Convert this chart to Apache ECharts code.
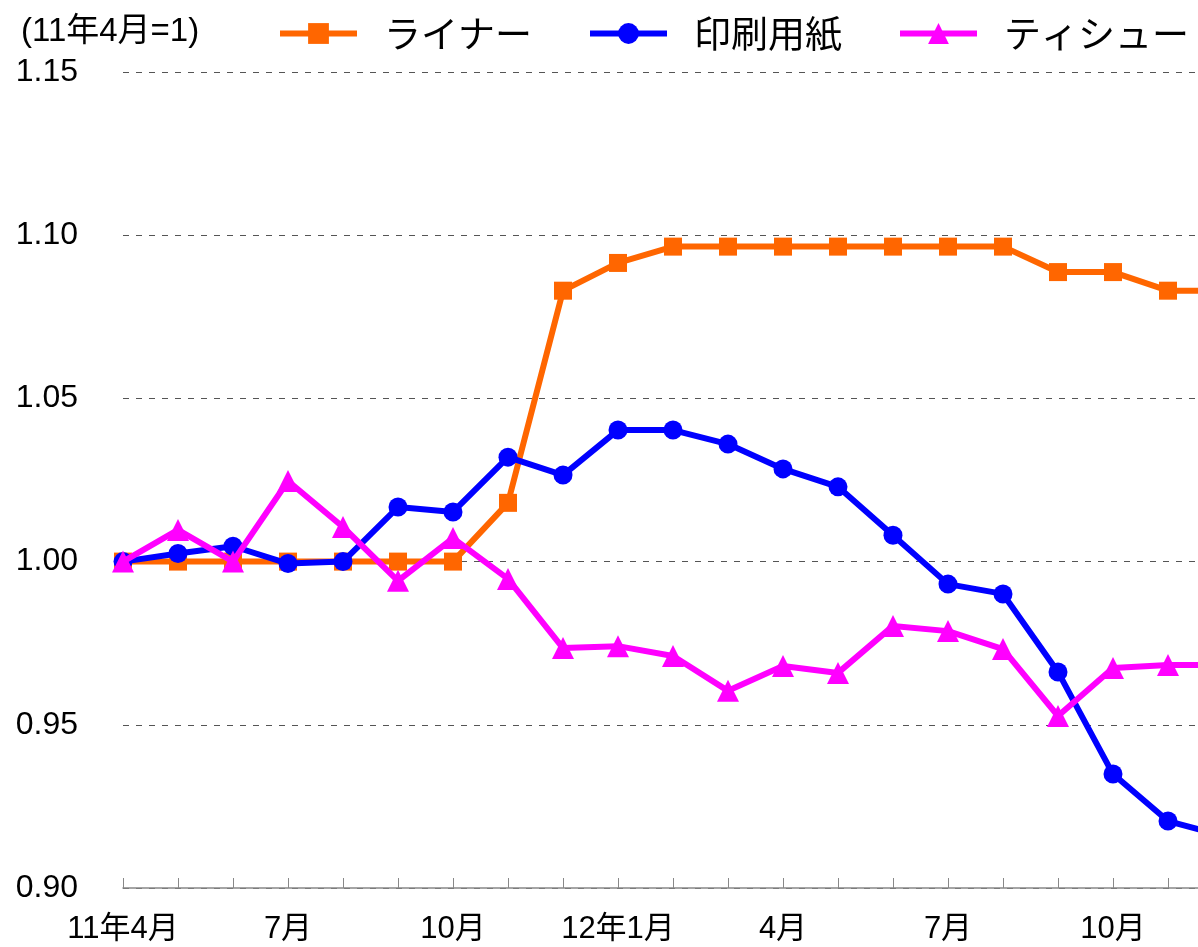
<!DOCTYPE html>
<html lang="ja">
<head>
<meta charset="UTF-8">
<title>ライナー・印刷用紙・ティシュー</title>
<style>
  html, body { margin: 0; padding: 0; background: #fff; }
  #main { width: 1198px; height: 947px; }
</style>
<script src="https://cdn.jsdelivr.net/npm/echarts@6/dist/echarts.min.js"></script>
</head>
<body>
<div id="main"></div>
<script>
// 月（11年4月〜12年12月）
var months = ['11年4月', '5月', '6月', '7月', '8月', '9月', '10月', '11月', '12月',
  '12年1月', '2月', '3月', '4月', '5月', '6月', '7月', '8月', '9月', '10月', '11月', '12月'];

// 11年4月=1
var liner = [1.000, 1.000, 1.000, 1.000, 1.000, 1.000, 1.000, 1.018, 1.083, 1.0915,
  1.0965, 1.0965, 1.0965, 1.0965, 1.0965, 1.0965, 1.0965, 1.0887, 1.0887, 1.083, 1.083];
var printPaper = [1.000, 1.0025, 1.0047, 0.9994, 1.000, 1.0167, 1.0152, 1.032, 1.0265, 1.0403,
  1.0403, 1.036, 1.0284, 1.0229, 1.0081, 0.9931, 0.9901, 0.9662, 0.9349, 0.9205, 0.916];
var tissue = [1.000, 1.0097, 1.000, 1.0247, 1.0106, 0.9941, 1.0072, 0.9947, 0.9735, 0.9741,
  0.9711, 0.9604, 0.968, 0.9659, 0.9803, 0.9787, 0.9732, 0.9527, 0.9674, 0.9683, 0.9683];

var yTicks = { min: 0.90, max: 1.15, step: 0.05 };

var FONT = '"Liberation Sans", "Noto Sans CJK JP", sans-serif';
var COLORS = ['#ff6600', '#0000ff', '#ff00ff'];

// 凡例は3つ並べて位置を揃える
function legendAt(name, left) {
  return {
    data: [name],
    left: left,
    top: 15,
    padding: 0,
    itemWidth: 77,
    itemHeight: 26,
    selectedMode: false,
    lineStyle: { width: 6 },
    textStyle: {
      fontFamily: '"Noto Sans CJK JP", sans-serif',
      fontSize: 37,
      color: '#000',
      padding: [0, 0, 0, 22]
    }
  };
}

var myChart = echarts.init(document.getElementById('main'), null, { renderer: 'canvas' });

var option = {
  animation: false,
  backgroundColor: '#fff',
  color: COLORS,
  title: {
    text: '(11年4月=1)',
    left: 16,
    top: 10,
    textStyle: { fontFamily: FONT, fontSize: 33, fontWeight: 'normal', color: '#000' }
  },
  legend: [
    legendAt('ライナー', 277),
    legendAt('印刷用紙', 587),
    legendAt('ティシュー', 897)
  ],
  grid: { left: 123, right: -25, top: 72, bottom: 59, outerBoundsMode: 'none', containLabel: false },
  xAxis: {
    type: 'category',
    data: months,
    boundaryGap: false,
    axisLine: { lineStyle: { color: '#888', width: 1.5 } },
    axisTick: { inside: true, length: 10, interval: 0, lineStyle: { color: '#888', width: 1 } },
    axisLabel: {
      interval: 2,
      margin: 26,
      fontFamily: FONT,
      fontSize: 31,
      color: '#000'
    },
    splitLine: { show: false }
  },
  yAxis: {
    type: 'value',
    min: yTicks.min,
    max: yTicks.max,
    interval: yTicks.step,
    axisLine: { show: false },
    axisTick: { show: false },
    axisLabel: {
      margin: 45,
      fontFamily: FONT,
      fontSize: 32,
      color: '#000',
      formatter: function (v) { return v.toFixed(2); }
    },
    splitLine: { lineStyle: { color: '#555', width: 1, type: [6, 7] } }
  },
  series: [
    {
      name: 'ライナー', type: 'line', data: liner,
      symbol: 'rect', symbolSize: 18,
      lineStyle: { width: 6 }, z: 2
    },
    {
      name: '印刷用紙', type: 'line', data: printPaper,
      symbol: 'circle', symbolSize: 19,
      lineStyle: { width: 6 }, z: 3
    },
    {
      name: 'ティシュー', type: 'line', data: tissue,
      symbol: 'triangle', symbolSize: 22,
      lineStyle: { width: 6 }, z: 4
    }
  ]
};

myChart.setOption(option);
</script>
</body>
</html>
